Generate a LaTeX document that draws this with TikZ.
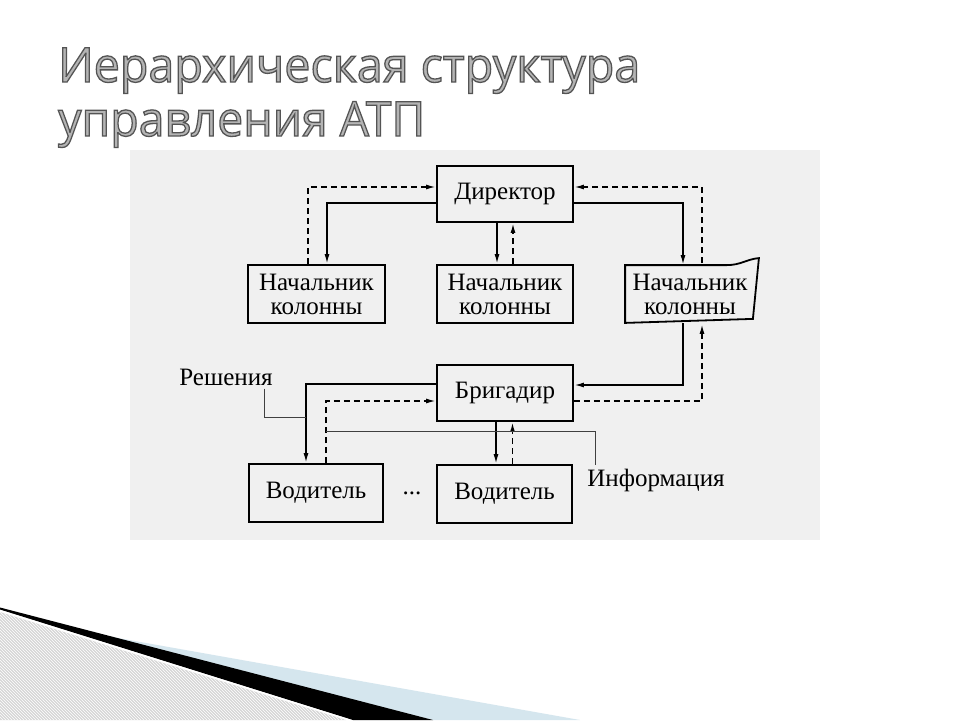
\documentclass[tikz,border=0pt]{standalone}
\usepackage{fontspec}
\setmainfont{Liberation Serif}
\newfontfamily\titlefont{Open Sans}
\usetikzlibrary{arrows.meta,patterns}
\definecolor{titlefill}{HTML}{B4B4B4}
\definecolor{scangray}{HTML}{F0F0F0}
\definecolor{hatchgray}{HTML}{D6D6D6}
\definecolor{bandblue}{HTML}{D5E6EE}
\newcommand{\hollowtext}[1]{{\color{titlefill}\special{pdf:literal direct 0.33 G 2 Tr 1.3 w}#1\special{pdf:literal direct 0 Tr}}}
\begin{document}
\begin{tikzpicture}[x=1pt,y=-1pt,
  box/.style={draw=black,line width=1.8pt,minimum width=136pt,minimum height=56pt,
    inner sep=0pt,align=center,font=\fontsize{25}{24}\selectfont},
  lbl/.style={inner sep=0pt,font=\fontsize{25}{24}\selectfont},
  solidarrow/.style={line width=1.7pt,-{Latex[length=10pt,width=5pt]}},
  dasharrow/.style={line width=1.7pt,dash pattern=on 6pt off 4pt,-{Latex[length=10pt,width=5pt]}},
  thinline/.style={line width=0.9pt,draw=black!75},
  ttl/.style={anchor=base west,inner sep=0pt,font=\titlefont\fontsize{48}{52}\selectfont}
]
\useasboundingbox (0,0) rectangle (960,720);
\fill[white] (0,0) rectangle (960,720);
% scanned page background
\fill[scangray] (130,150) rectangle (820,540);

% title
\node[ttl] (t1) at (58,82) {\resizebox{582pt}{\height}{\hollowtext{Иерархическая структура}}};
\node[ttl] (t2) at (58,136) {\resizebox{367pt}{\height}{\hollowtext{управления АТП}}};

% boxes
\node[box] (dir) at (505,194) {Директор};
\node[box,minimum width=137pt,minimum height=58pt] (nk1) at (316.5,294) {Начальник\\колонны};
\node[box,minimum height=58pt] (nk2) at (505,294) {Начальник\\колонны};
\node[box,draw=none,minimum width=128pt] (nk3) at (690,294) {Начальник\\колонны};
\draw[line width=1.8pt,line join=miter] (nk3.south west) -- (nk3.north west)
  -- ([xshift=-28pt]nk3.north east)
  .. controls ([xshift=-14pt]nk3.north east) and ([xshift=-8pt,yshift=6pt]nk3.north east)
  .. ([xshift=4pt,yshift=7pt]nk3.north east)
  -- ([xshift=-2pt,yshift=4pt]nk3.south east) -- cycle;
\node[box] (brig) at (505,393) {Бригадир};
\node[box,minimum width=134pt,minimum height=58pt] (v1) at (316,493) {Водитель};
\node[box,minimum width=135pt,minimum height=58pt] (v2) at (504.5,494) {Водитель};
\node[lbl] (dots) at (412,493) {...};
\node[lbl] (resh) at (226,377) {Решения};
\node[lbl] (info) at (656,480) {Информация};

% director <-> column heads
\draw[solidarrow] ([yshift=-9pt]dir.west) -| ([xshift=10.5pt]nk1.north);
\draw[dasharrow] ([xshift=-8.5pt]nk1.north) |- ([yshift=7pt]dir.west);
\draw[solidarrow] ([xshift=-8pt]dir.south) -- ([xshift=-8pt]dir.south |- nk2.north);
\draw[dasharrow] ([xshift=8pt]nk2.north) -- ([xshift=8pt]nk2.north |- dir.south);
\draw[solidarrow] ([yshift=-9pt]dir.east) -| ([xshift=-7pt]nk3.north);
\draw[dasharrow] ([xshift=12pt,yshift=2pt]nk3.north) |- ([yshift=7pt]dir.east);

% column head <-> foreman
\draw[solidarrow] ([xshift=-7pt]nk3.south) |- ([yshift=8pt]brig.east);
\draw[dasharrow] ([yshift=-8pt]brig.east) -| ([xshift=12pt,yshift=-1pt]nk3.south);

% foreman <-> drivers
\draw[solidarrow] ([yshift=9pt]brig.west) -| ([xshift=-10pt]v1.north);
\draw[dasharrow] ([xshift=10pt]v1.north) |- ([yshift=-8pt]brig.west);
\draw[solidarrow] ([xshift=-9pt]brig.south) -- ([xshift=-9pt]brig.south |- v2.north);
\draw[dasharrow] ([xshift=8pt]v2.north) -- ([xshift=8pt]v2.north |- brig.south);

% label pointers
\coordinate (j1) at (306,417);
\coordinate (j2) at (326,431);
\draw[thinline] ([xshift=38pt,yshift=-3pt]resh.south) |- (j1);
\draw[thinline] (j2) -| ([xshift=-61pt,yshift=3pt]info.north);

% bottom-left decoration
\fill[hatchgray] (0,612) -- (346,720) -- (0,720) -- cycle;
\fill[pattern=north west lines,pattern color=white] (0,612) -- (346,720) -- (0,720) -- cycle;
\fill[bandblue] (101,635) -- (580,720) -- (433,720) -- cycle;
\fill[black] (0,607.5) -- (433,720) -- (353,720) -- (0,609.5) -- cycle;
\draw[white,line width=1.2pt] (0,610.8) -- (349.5,720);
\end{tikzpicture}
\end{document}
